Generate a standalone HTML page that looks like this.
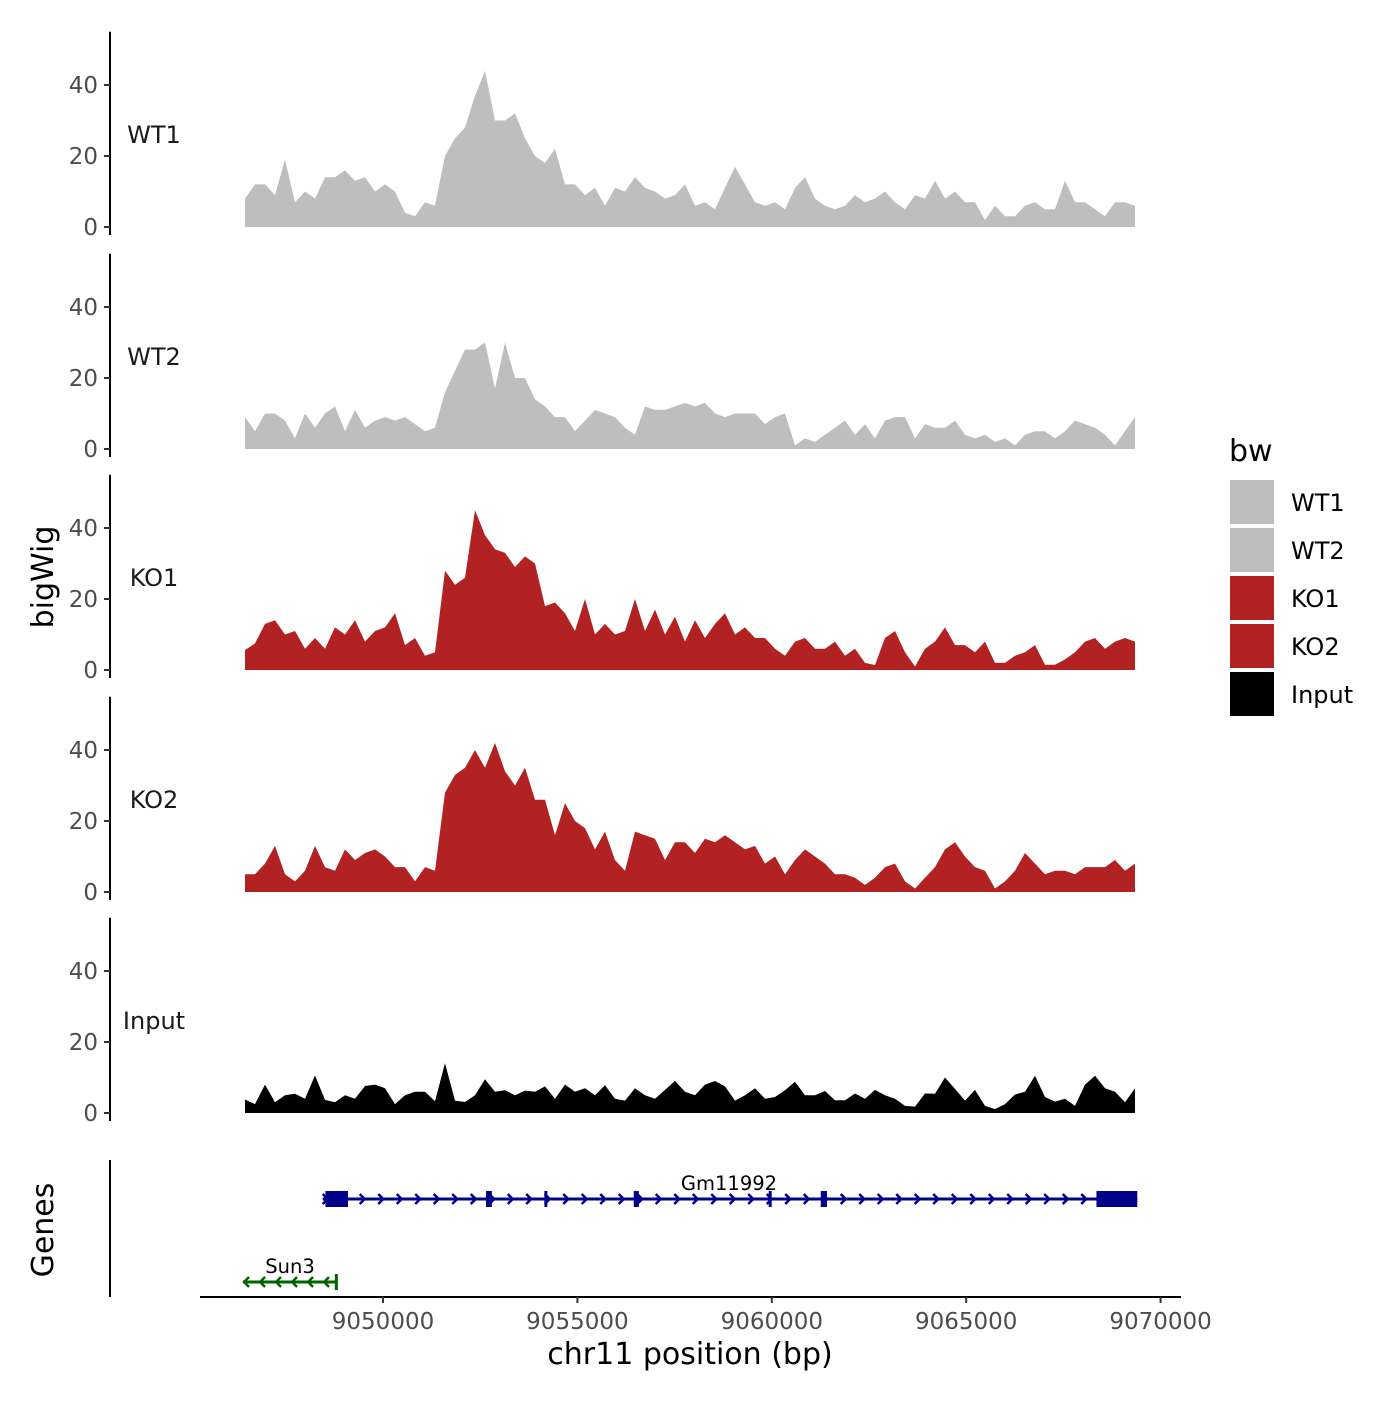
<!DOCTYPE html>
<html><head><meta charset="utf-8"><style>
body{margin:0;background:#fff}
svg text{font-family:"DejaVu Sans","Liberation Sans",sans-serif}
</style></head><body>
<svg id="c" width="1400" height="1400" xmlns="http://www.w3.org/2000/svg"></svg>
<script>
const samples=["WT1","WT2","KO1","KO2","Input"];
const colors=["#bebebe","#bebebe","#b22222","#b22222","#000000"];
const yTicks=[0,20,40];
const xTicks=[9050000,9055000,9060000,9065000,9070000];
const xTickLabels=["9050000","9055000","9060000","9065000","9070000"];
const startBp=9046451, endBp=9069342;
const wt1=[8,12,12,9,19,7,10,8,14,14,16,13,14,10,12,10,4,3,7,6,20,25,28,37,44,30,30,32,25,20,18,22,12,12,9,11,6,11,10,14,11,10,8,9,12,6,7,5,11,17,12,7,6,7,5,11,14,8,6,5,6,9,7,8,10,7,5,9,8,13,8,10,7,7,2,6,3,3,6,7,5,5,13,7,7,5,3,7,7,6];
const wt2=[9,5,10,10,8,3,10,6,10,12,5,11,6,8,9,8,9,7,5,6,16,22,28,28,30,17,30,20,20,14,12,9,9,5,8,11,10,9,6,4,12,11,11,12,13,12,13,10,9,10,10,10,7,9,10,1,3,2,4,6,8,4,7,3,8,9,9,3,7,6,6,8,4,3,4,2,3,1,4,5,5,3,5,8,7,6,4,1,5,9];
const ko1=[5.6,7.5,13,14,10,11,6,9,6,12,10,14,8,11,12,16,7,9,4,5,28,24,26,45,38,34,33,29,32,30,18,19,16,11,20,10,13,10,11,20,11,17,10,15,8,14,9,13,16,10,12,9,9,6,4,8,9,6,6,8,4,6,2,1.4,9,11,5,1,6,8,12,7,7,5,8,2,2,4,5,7,1.5,1.5,3,5,8,9,6,8,9,8];
const ko2=[5,5,8,13,5,3,6,13,7,6,12,9,11,12,10,7,7,3,7,6,28,33,35,40,35,42,34,30,35,26,26,16,25,20,18,12,17,9,6,17,16,15,9,14,14,11,15,14,16,14,12,13,8,10,5,9,12,10,8,5,5,4,2,4,7,8,3,1,4,7,12,14,10,7,6,1,3,6,11,8,5,6,6,5,7,7,7,9,6,8];
const input=[3.8,2.5,8,3,5,5.4,4,10.6,3.7,3,5,4,7.6,8,7,2.5,5,6,6,3.3,14,3.5,3.1,5,9.5,6,6.4,5,6.3,6,7.5,4,8,6,7,5,7.8,4,3.5,7,5,4,6.5,9,6,5,8,9,7.5,3.5,5,7,4,4.5,6.4,8.8,5,5,6.2,3.6,3.6,5.5,4,6.5,5,4,2,1.8,5.5,5.4,10,6.8,3.5,6.5,2,1.1,2.5,5.2,6,10.5,4.5,3.2,4,2,8,10.5,7,6,3,7];
const series=[wt1,wt2,ko1,ko2,input];
const genes=["Gm11992","Sun3"];
const geneStart=[9048450,9046400];
const geneEnd=[9069400,9048800];
const gm11992Exons=[[9048520,9049100],[9052650,9052800],[9054150,9054200],[9056450,9056580],[9059920,9059970],[9061260,9061420],[9068350,9069400]];

const svg=document.getElementById('c');
const NS="http://www.w3.org/2000/svg";
function mk(t,a,p){const e=document.createElementNS(NS,t);for(const k in a)e.setAttribute(k,a[k]);(p||svg).appendChild(e);return e;}
const xS=bp=>383+(bp-9050000)/5000*194.4;
const pxPerUnit=3.55;
const base=[227,449,670,892,1113];

samples.forEach((s,i)=>{
  const g=mk('g',{});
  
  
  const y=v=>base[i]-v*pxPerUnit;
  const ax=mk('line',{x1:110,x2:110,y1:y(55),y2:base[i]+8,stroke:'#000','stroke-width':2},g);
  
  
  yTicks.forEach(t=>{
    mk('line',{x1:104,x2:110,y1:y(t),y2:y(t),stroke:'#333','stroke-width':2},g);
    const tx=mk('text',{x:98,y:y(t)+8,'text-anchor':'end','font-size':23,fill:'#4d4d4d'},g);
    tx.textContent=t;
    
    
  });
  const lb=mk('text',{x:154,y:base[i]-84,'text-anchor':'middle','font-size':24,fill:'#1a1a1a'},g);
  lb.textContent=s;
  
  
  const d=series[i];const n=d.length;
  let p='M'+xS(startBp)+','+base[i];
  d.forEach((v,k)=>{const bp=startBp+(endBp-startBp)*k/(n-1);p+=' L'+xS(bp).toFixed(1)+','+y(v).toFixed(1);});
  p+=' L'+xS(endBp)+','+base[i]+'Z';
  const ar=mk('path',{d:p,fill:colors[i]},g);
  
  
});

const yt=mk('text',{x:0,y:0,'font-size':30,'text-anchor':'middle',transform:'translate(53,577) rotate(-90)'});
yt.textContent='bigWig';


const gt=mk('text',{x:0,y:0,'font-size':30,'text-anchor':'middle',transform:'translate(53,1230) rotate(-90)'});
gt.textContent='Genes';


const gax=mk('line',{x1:110,x2:110,y1:1160,y2:1297,stroke:'#000','stroke-width':2});



const xa=mk('line',{x1:200,x2:1181,y1:1297,y2:1297,stroke:'#000','stroke-width':2});


xTicks.forEach((t,k)=>{
  mk('line',{x1:xS(t),x2:xS(t),y1:1297,y2:1303,stroke:'#333','stroke-width':2});
  const tx=mk('text',{x:xS(t),y:1329,'text-anchor':'middle','font-size':23,fill:'#4d4d4d'});
  tx.textContent=xTickLabels[k];
  
  
});
const xt=mk('text',{x:690,y:1364,'text-anchor':'middle','font-size':30});
xt.textContent='chr11 position (bp)';



function drawGene(i,yy,col,dir,exons){
  const g=mk('g',{});
  
  
  const x1=xS(geneStart[i]),x2=xS(geneEnd[i]);
  mk('line',{x1:x1,x2:x2,y1:yy,y2:yy,stroke:col,'stroke-width':3},g);
  const step=dir>0?18.5:16;
  for(let x=x1+3;x<x2-4;x+=step){
    mk('path',{d:dir>0?`M${x-3},${yy-5} L${x+2},${yy} L${x-3},${yy+5}`:`M${x+3},${yy-5} L${x-2},${yy} L${x+3},${yy+5}`,stroke:col,'stroke-width':2.5,fill:'none'},g);
  }
  exons.forEach(e=>{const a=xS(e[0]),b=xS(e[1]);mk('rect',{x:a,y:yy-8,width:Math.max(b-a,3),height:16,fill:col},g);});
  const lb=mk('text',{x:i===0?729:290,y:yy-9,'text-anchor':'middle','font-size':19.5,fill:'#000'},g);
  lb.textContent=genes[i];
  return g;
}
drawGene(0,1199,'#00008b',1,gm11992Exons);
const sg=drawGene(1,1282,'#006400',-1,[]);
mk('line',{x1:xS(geneEnd[1]),x2:xS(geneEnd[1]),y1:1274,y2:1290,stroke:'#006400','stroke-width':3},sg);

const lg=mk('g',{});


const ltt=mk('text',{x:1229,y:461,'font-size':30},lg);
ltt.textContent='bw';
samples.forEach((s,i)=>{
  const r=mk('rect',{x:1230,y:480+i*48,width:44,height:44,fill:colors[i]},lg);
  
  
  const t=mk('text',{x:1291,y:511+i*48,'font-size':24},lg);
  t.textContent=s;
  
  
});
</script>
</body></html>
